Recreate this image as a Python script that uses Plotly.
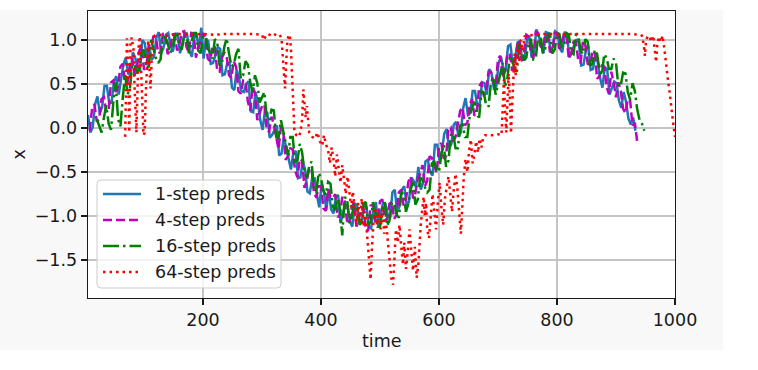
import plotly.graph_objects as go

# ---------------- data ----------------
t_1step = list(range(5, 934, 4))
x_1step = [
    0.15, -0.05, 0.01, 0.27, 0.36, 0.17, 0.24, 0.48, 0.48, 0.28,
    0.29, 0.53, 0.59, 0.38, 0.55, 0.72, 0.80, 0.62, 0.60, 0.86,
    0.80, 0.68, 0.65, 1.00, 0.97, 0.80, 0.91, 0.78, 0.81, 1.03,
    1.09, 0.85, 0.91, 1.06, 1.08, 0.94, 0.87, 1.05, 1.08, 0.85,
    0.96, 1.08, 1.06, 0.88, 0.81, 1.04, 1.06, 0.90, 1.14, 0.79,
    1.02, 0.98, 0.73, 0.74, 0.83, 0.92, 0.90, 0.60, 0.61, 0.74,
    0.74, 0.46, 0.43, 0.66, 0.57, 0.42, 0.41, 0.50, 0.53, 0.19,
    0.18, 0.41, 0.29, 0.09, -0.02, 0.20, 0.17, -0.11, -0.08, -0.02,
    0.03, -0.31, -0.29, -0.10, -0.22, -0.37, -0.47, -0.28, -0.26, -0.57,
    -0.56, -0.38, -0.47, -0.72, -0.74, -0.57, -0.57, -0.76, -0.90, -0.63,
    -0.73, -0.93, -0.70, -0.92, -0.97, -0.79, -0.76, -1.08, -0.98, -0.87,
    -0.89, -1.06, -1.12, -0.86, -0.87, -1.10, -1.06, -0.84, -0.90, -1.12,
    -1.14, -0.92, -0.84, -1.11, -0.98, -0.85, -0.86, -0.98, -1.02, -0.73,
    -0.70, -0.95, -0.89, -0.70, -0.66, -0.87, -0.84, -0.56, -0.60, -0.67,
    -0.44, -0.70, -0.62, -0.38, -0.36, -0.50, -0.54, -0.19, -0.19, -0.37,
    -0.26, -0.06, -0.01, -0.23, -0.18, 0.04, 0.07, -0.10, -0.05, 0.23,
    0.34, 0.15, 0.17, 0.42, 0.42, 0.25, 0.28, 0.52, 0.51, 0.38,
    0.67, 0.62, 0.45, 0.47, 0.74, 0.81, 0.67, 0.66, 0.93, 0.95,
    0.73, 0.77, 0.97, 0.99, 0.77, 0.78, 1.00, 1.05, 0.80, 0.85,
    1.12, 1.05, 0.95, 0.85, 1.09, 1.08, 0.88, 0.92, 1.10, 1.08,
    0.90, 0.86, 1.08, 1.06, 0.80, 0.88, 0.94, 1.01, 0.97, 0.71,
    0.72, 0.89, 0.94, 0.66, 0.67, 0.84, 0.75, 0.57, 0.46, 0.69,
    0.67, 0.38, 0.45, 0.53, 0.51, 0.31, 0.23, 0.41, 0.30, 0.11,
    0.04, 0.12, -0.03]

t_4step = list(range(8, 937, 4))
x_4step = [
    -0.03, 0.23, 0.27, 0.07, 0.11, 0.33, 0.35, 0.18, 0.21, 0.52,
    0.54, 0.41, 0.48, 0.70, 0.73, 0.50, 0.52, 0.72, 0.79, 0.60,
    0.69, 0.88, 0.93, 0.66, 0.71, 0.94, 0.93, 1.04, 1.04, 0.85,
    0.86, 1.07, 1.08, 0.84, 0.88, 1.06, 1.07, 0.88, 0.95, 1.09,
    1.10, 0.92, 0.86, 1.08, 1.07, 0.80, 0.93, 0.98, 1.08, 1.03,
    0.79, 0.76, 0.93, 0.92, 0.65, 0.64, 0.80, 0.86, 0.82, 0.60,
    0.57, 0.76, 0.70, 0.42, 0.39, 0.54, 0.53, 0.30, 0.20, 0.47,
    0.40, 0.09, 0.17, 0.25, 0.27, -0.02, -0.04, 0.13, 0.04, -0.12,
    -0.24, 0.01, -0.04, -0.36, -0.32, -0.23, -0.24, -0.48, -0.56, -0.35,
    -0.37, -0.68, -0.59, -0.46, -0.46, -0.73, -0.79, -0.66, -0.66, -0.91,
    -0.94, -0.69, -0.78, -0.80, -0.75, -1.01, -0.99, -0.78, -0.83, -1.05,
    -1.09, -0.90, -0.84, -1.12, -1.04, -0.90, -0.91, -1.16, -1.16, -0.88,
    -0.87, -1.06, -1.05, -0.83, -0.81, -1.05, -1.03, -0.86, -0.84, -1.03,
    -0.99, -0.73, -0.70, -0.88, -0.81, -0.61, -0.55, -0.80, -0.74, -0.57,
    -0.52, -0.42, -0.66, -0.60, -0.32, -0.34, -0.44, -0.51, -0.21, -0.17,
    -0.35, -0.32, 0.00, 0.01, -0.15, -0.10, 0.05, 0.20, 0.23, 0.03,
    0.06, 0.27, 0.33, 0.14, 0.17, 0.47, 0.52, 0.36, 0.44, 0.64,
    0.64, 0.52, 0.47, 0.79, 0.82, 0.57, 0.65, 0.84, 0.85, 0.65,
    0.70, 0.91, 1.00, 0.77, 0.85, 1.06, 1.04, 0.85, 0.80, 1.09,
    1.08, 0.93, 0.90, 1.07, 1.06, 0.87, 0.86, 1.08, 1.07, 0.90,
    0.96, 1.08, 1.06, 0.79, 0.84, 0.98, 0.98, 0.77, 0.74, 0.99,
    0.94, 0.73, 0.72, 0.86, 0.87, 0.56, 0.59, 0.71, 0.70, 0.47,
    0.39, 0.64, 0.52, 0.35, 0.52, 0.43, 0.22, 0.17, 0.33, 0.31,
    0.03, 0.06, -0.16]

t_16step = list(range(20, 949, 4))
x_16step = [
    0.10, 0.02, -0.05, 0.12, 0.26, 0.05, -0.02, 0.30, 0.52, 0.10,
    0.02, 0.35, 0.61, 0.38, 0.45, 0.72, 0.72, 0.62, 0.67, 0.86,
    0.89, 0.68, 0.70, 1.00, 0.91, 0.80, 0.74, 0.78, 1.03, 1.03,
    0.97, 0.85, 0.89, 1.06, 1.06, 0.94, 0.89, 1.05, 1.07, 0.85,
    0.96, 1.08, 1.08, 0.88, 0.85, 1.04, 1.04, 0.90, 0.86, 0.79,
    1.01, 0.98, 0.71, 0.74, 0.92, 1.02, 0.85, 0.70, 0.72, 0.84,
    0.90, 0.56, 0.60, 0.76, 0.72, 0.52, 0.41, 0.60, 0.51, 0.29,
    0.35, 0.41, 0.11, 0.09, 0.21, 0.20, -0.10, -0.11, 0.09, -0.02,
    -0.16, -0.31, -0.10, -0.10, -0.38, -0.37, -0.18, -0.28, -0.50, -0.57,
    -0.43, -0.38, -0.70, -0.72, -0.51, -0.57, -0.71, -0.76, -0.61, -0.63,
    -0.89, -0.93, -0.76, -0.92, -1.22, -0.79, -0.79, -1.08, -1.00, -0.87,
    -0.87, -1.06, -1.09, -0.86, -0.84, -1.10, -1.07, -0.84, -0.96, -1.12,
    -1.12, -0.92, -0.84, -1.11, -1.05, -0.85, -0.85, -0.98, -1.02, -0.73,
    -0.75, -0.95, -0.86, -0.70, -0.61, -0.87, -0.81, -0.56, -0.59, -0.67,
    -0.73, -0.70, -0.40, -0.38, -0.47, -0.50, -0.29, -0.19, -0.44, -0.37,
    -0.08, -0.06, -0.23, -0.23, 0.03, 0.04, -0.10, -0.10, 0.14, 0.23,
    0.30, 0.15, 0.12, 0.42, 0.40, 0.25, 0.25, 0.52, 0.58, 0.38,
    0.50, 0.62, 0.74, 0.47, 0.57, 0.81, 0.79, 0.66, 0.64, 0.95,
    0.94, 0.77, 0.80, 0.99, 1.00, 0.78, 0.79, 1.05, 1.06, 0.85,
    0.90, 1.05, 1.08, 0.85, 0.89, 1.08, 1.07, 0.92, 0.94, 1.08,
    1.06, 0.86, 0.84, 1.06, 1.05, 0.88, 0.84, 1.01, 0.98, 0.71,
    0.73, 0.89, 0.84, 0.66, 0.60, 0.84, 0.80, 0.67, 0.67, 0.79,
    0.74, 0.48, 0.48, 0.63, 0.62, 0.41, 0.32, 0.51, 0.42, 0.21,
    0.09, 0.05, -0.03]

t_64step = [68, 69, 70, 71, 73, 74, 75, 76, 77, 79, 82, 84, 86, 87, 89, 91, 93, 95, 97, 99,
            101, 103, 105, 107, 109, 111, 113, 115, 118,
            125, 140, 160, 180, 200, 220, 240, 260, 280, 300, 303, 306, 310, 316, 320, 325, 330, 333,
            335, 337, 339, 341, 343, 345, 347, 349, 351, 353, 355, 358, 362, 365,
            368, 370, 372, 374, 376, 378, 380,
            385, 390, 394, 398, 402, 405, 408,
            412, 415, 418, 421, 424, 427, 430, 433, 436, 439, 442, 445, 448,
            451, 454, 457, 460, 463, 466, 469, 472, 475, 478, 481, 484, 486, 489, 492, 495, 498,
            501, 504, 507, 510, 513, 516, 519, 522, 524, 527,
            530, 533, 536, 539, 541, 544, 547, 550, 553, 556, 559, 562, 565, 567, 569,
            572, 574, 576, 578, 580,
            583, 586, 589, 592, 595, 598, 601, 604, 607, 610, 613,
            616, 619, 622, 625, 628, 631, 634, 637, 639,
            642, 645, 648, 651, 654, 657, 660,
            663, 666, 669, 672, 675, 678,
            690, 700, 706,
            708, 710, 712, 714, 716, 718, 720, 722, 724, 726, 728, 730,
            733, 736, 739, 742, 745, 748,
            760, 780, 800, 820, 840, 860, 880, 900, 920, 940,
            944, 947, 949, 951, 954, 957, 960, 963, 966, 968, 970, 973, 976, 979,
            982, 985, 988, 991, 994, 997, 1000]
x_64step = [-0.10, 0.35, 0.80, 1.02, 0.70, 0.30, -0.05, 0.50, 0.95, 1.03, 0.90, 0.45, 0.05, -0.05,
            0.45, 0.95, 1.04, 0.75, 0.30, -0.08, -0.05, 0.40, 0.80, 1.00, 0.70, 0.45, 0.80, 1.03, 1.05,
            1.06, 1.05, 1.07, 1.06, 1.07, 1.06, 1.07, 1.07, 1.07, 1.06, 1.00, 1.04, 1.07, 1.05, 1.07, 1.05, 1.06, 1.02,
            0.85, 0.60, 0.45, 0.75, 1.00, 1.05, 1.06, 0.90, 0.55, 0.20, -0.05, -0.08, -0.10, -0.05,
            0.10, 0.44, 0.30, 0.12, 0.25, 0.05, -0.05,
            -0.10, -0.12, -0.05, -0.15, -0.20, -0.08, -0.18,
            -0.25, -0.40, -0.22, -0.35, -0.55, -0.30, -0.45, -0.62, -0.42, -0.58, -0.75, -0.55, -0.70,
            -0.90, -0.72, -0.95, -1.10, -0.85, -1.05, -0.80, -1.12, -0.95, -1.20, -1.45, -1.72, -1.40,
            -1.05, -0.90, -1.10, -0.95,
            -1.15, -0.92, -1.20, -1.05, -1.30, -1.50, -1.70, -1.78, -1.45, -1.15,
            -1.30, -1.10, -1.35, -1.55, -1.30, -1.60, -1.40, -1.15, -1.40, -1.62, -1.35, -1.70, -1.55, -1.30, -1.10,
            -0.90, -0.78, -1.00, -0.85, -1.15,
            -1.25, -1.00, -0.75, -0.95, -1.15, -0.85, -0.62, -0.90, -1.10, -0.80, -0.65,
            -0.55, -0.75, -0.95, -0.70, -0.52, -0.68, -0.90, -1.20, -0.95,
            -0.55, -0.35, -0.50, -0.25, -0.13, -0.40, -0.30,
            -0.15, -0.28, -0.12, -0.22, -0.10, -0.08,
            -0.08, -0.07, -0.08,
            0.20, 0.55, 0.20, -0.05, 0.30, 0.62, 0.35, -0.06, 0.25, 0.60, 0.85, 0.60,
            0.95, 0.75, 1.00, 0.88, 1.04, 1.05,
            1.06, 1.07, 1.07, 1.07, 1.07, 1.07, 1.07, 1.07, 1.07, 1.06,
            1.05, 0.95, 0.82, 1.00, 1.05, 1.03, 0.98, 1.05, 0.90, 0.75, 0.95, 1.04, 0.98, 1.05,
            0.90, 0.70, 0.55, 0.40, 0.20, 0.05, -0.10]

series_names = ["1-step preds", "4-step preds", "16-step preds", "64-step preds"]
x_ticks = [200, 400, 600, 800, 1000]
y_ticks = [-1.5, -1.0, -0.5, 0.0, 0.5, 1.0]
y_tick_text = ["\u22121.5", "\u22121.0", "\u22120.5", "0.0", "0.5", "1.0"]

# ---------------- styling ----------------
W, H = 758, 370
ML, MR, MT, MB = 88, 83, 11, 72
PW, PH = W - ML - MR, H - MT - MB
FONT = "DejaVu Sans"
FS = 17.5
INK = "#1a1a1a"


def px_x(p):
    return (p - ML) / PW


def px_y(p):
    return (MT + PH - p) / PH


styles = [
    dict(color="#1f77b4", dash="solid"),
    dict(color="#bf00bf", dash="9px,4px"),
    dict(color="#008000", dash="16px,4px,2.5px,4px"),
    dict(color="#ff0000", dash="2.5px,4px"),
]
data = [(t_1step, x_1step), (t_4step, x_4step), (t_16step, x_16step), (t_64step, x_64step)]

fig = go.Figure()
for (tt, vv), name, st in zip(data, series_names, styles):
    n = min(len(tt), len(vv))
    fig.add_trace(go.Scatter(x=tt[:n], y=vv[:n], mode="lines", name=name, showlegend=False,
                             hoverinfo="skip",
                             line=dict(color=st["color"], dash=st["dash"], width=2.5)))

axis_common = dict(showgrid=True, gridcolor="#c4c4c4", gridwidth=1.3,
                   showline=True, linecolor=INK, linewidth=1.3, mirror=True,
                   ticks="outside", ticklen=6, tickwidth=1.3, tickcolor=INK,
                   zeroline=False, tickfont=dict(family=FONT, size=FS, color=INK))

fig.update_xaxes(range=[5, 1000], tickmode="array", tickvals=x_ticks, **axis_common)
fig.update_yaxes(range=[-1.93, 1.33], tickmode="array", tickvals=y_ticks,
                 ticktext=y_tick_text, **axis_common)

# white page outside the light-grey figure area
shapes = [
    dict(type="rect", xref="paper", yref="paper", x0=-0.3, x1=1.3, y0=px_y(10), y1=1.2,
         fillcolor="white", line=dict(width=0), layer="below"),
    dict(type="rect", xref="paper", yref="paper", x0=px_x(723), x1=1.3, y0=-0.4, y1=1.2,
         fillcolor="white", line=dict(width=0), layer="below"),
    dict(type="rect", xref="paper", yref="paper", x0=-0.3, x1=1.3, y0=-0.4, y1=px_y(350),
         fillcolor="white", line=dict(width=0), layer="below"),
]

# legend box (rounded) drawn as a shape
bx0, bx1, by0, by1 = px_x(97), px_x(281), px_y(288), px_y(180)
rx, ry = 4 / PW, 4 / PH
path = (f"M{bx0+rx},{by0} L{bx1-rx},{by0} Q{bx1},{by0} {bx1},{by0+ry} "
        f"L{bx1},{by1-ry} Q{bx1},{by1} {bx1-rx},{by1} L{bx0+rx},{by1} "
        f"Q{bx0},{by1} {bx0},{by1-ry} L{bx0},{by0+ry} Q{bx0},{by0} {bx0+rx},{by0} Z")
shapes.append(dict(type="path", xref="paper", yref="paper", path=path,
                   fillcolor="rgba(255,255,255,0.8)", line=dict(color="#cccccc", width=1),
                   layer="above"))

annotations = [
    dict(text="time", xref="paper", yref="paper", x=0.5, y=0, xanchor="center",
         yanchor="middle", yshift=-(341 - (MT + PH)), showarrow=False,
         font=dict(family=FONT, size=FS, color=INK)),
    dict(text="x", xref="paper", yref="paper", x=0, y=0.5, xanchor="center",
         yanchor="middle", xshift=-(ML - 18), textangle=-90, showarrow=False,
         font=dict(family=FONT, size=FS, color=INK)),
]

row_y = [194, 220, 246, 272]
for name, st, ry_px in zip(series_names, styles, row_y):
    shapes.append(dict(type="line", xref="paper", yref="paper",
                       x0=px_x(103), x1=px_x(141), y0=px_y(ry_px), y1=px_y(ry_px),
                       line=dict(color=st["color"], dash=st["dash"], width=2.5), layer="above"))
    annotations.append(dict(text=name, xref="paper", yref="paper", x=px_x(153), y=px_y(ry_px),
                            xanchor="left", yanchor="middle", showarrow=False,
                            font=dict(family=FONT, size=FS, color=INK)))

fig.update_layout(
    width=W, height=H,
    margin=dict(l=ML, r=MR, t=MT, b=MB, pad=0),
    paper_bgcolor="#f8f8f8", plot_bgcolor="white",
    font=dict(family=FONT, size=FS, color=INK),
    shapes=shapes, annotations=annotations,
    showlegend=False, hovermode=False, dragmode=False,
)

fig.write_html("out.html", config={"displayModeBar": False, "staticPlot": True},
               post_script="document.body.style.margin='0px';")
